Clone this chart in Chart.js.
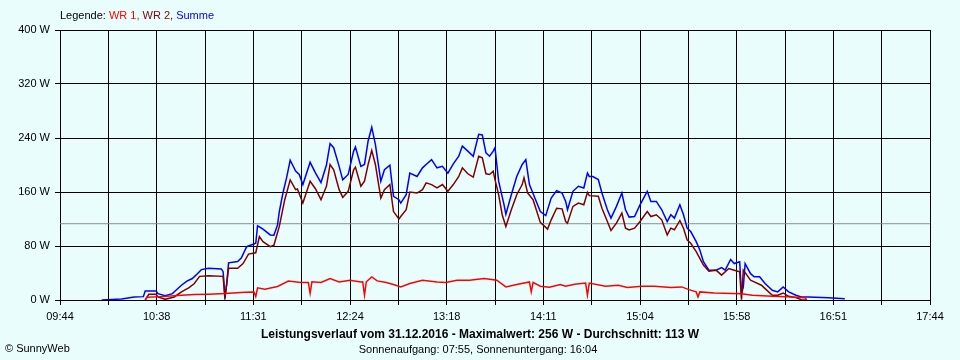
<!DOCTYPE html>
<html>
<head>
<meta charset="utf-8">
<script src="https://cdn.jsdelivr.net/npm/chart.js@4.4.0/dist/chart.umd.min.js"></script>
<style>
  html, body { margin: 0; padding: 0; background: #e9fdfd; }
  canvas { display: block; }
</style>
</head>
<body>
<canvas id="chart" width="960" height="360"></canvas>
<script>
const day = '31.12.2016';
const maxWatt = 256;
const avgWatt = 113;
const sunrise = '07:55';
const sunset = '16:04';

const seriesNames = ['WR 1', 'WR 2', 'Summe'];
const timeLabels = ['09:44', '10:38', '11:31', '12:24', '13:18', '14:11', '15:04', '15:58', '16:51', '17:44'];

// WR 1 (red)
const wr1 = [
  ['10:31', 0], ['10:32', 4], ['10:40', 5], ['10:49', 6.5], ['10:58', 8], ['11:06', 8.5], ['11:15', 9.5],
  ['11:26', 11.4], ['11:31', 12], ['11:32', 5], ['11:33', 18], ['11:37', 16], ['11:44', 20], ['11:50', 28],
  ['11:57', 26], ['12:01', 26], ['12:02', 10], ['12:03', 27], ['12:08', 26], ['12:13', 31.8], ['12:18', 26.8],
  ['12:24', 29.3], ['12:30', 26.8], ['12:31', 27], ['12:32', 7], ['12:33', 27], ['12:36', 34.3], ['12:39', 28.3],
  ['12:44', 25.8], ['12:48', 22.9], ['12:52', 19.4], ['12:57', 24.4], ['13:04', 29.3], ['13:12', 26.8],
  ['13:17', 25.8], ['13:23', 29.3], ['13:30', 29.3], ['13:38', 31.8], ['13:45', 29.3], ['13:50', 19.4],
  ['13:56', 22.9], ['14:03', 26.8], ['14:04', 12], ['14:05', 26], ['14:09', 20.4], ['14:14', 18.9],
  ['14:20', 22.9], ['14:23', 20.4], ['14:28', 23.4], ['14:34', 25], ['14:35', 7], ['14:36', 25],
  ['14:45', 20.4], ['14:52', 21.9], ['14:57', 18.4], ['15:05', 20.4], ['15:12', 20.4], ['15:21', 18.4],
  ['15:27', 19.4], ['15:31', 15.4], ['15:35', 12], ['15:36', 4.5], ['15:37', 12], ['15:45', 10.4],
  ['16:00', 9.4], ['16:06', 7], ['16:17', 5.5], ['16:28', 4.5], ['16:35', 3.5], ['16:36', 0]
];

// WR 2 (dark red)
const wr2 = [
  ['10:31', 0], ['10:33', 8.5], ['10:37', 8.5], ['10:38', 4.5], ['10:42', 1], ['10:47', 4.5], ['10:51', 12],
  ['10:55', 18], ['10:58', 24], ['11:01', 35], ['11:06', 36], ['11:14', 35], ['11:15', 2], ['11:17', 47],
  ['11:22', 47], ['11:25', 54], ['11:28', 68], ['11:32', 70], ['11:34', 94], ['11:36', 86.5], ['11:40', 79],
  ['11:42', 81], ['11:45', 109], ['11:48', 148.6], ['11:51', 178], ['11:54', 163.5], ['11:55', 164.5],
  ['11:58', 143.6], ['12:02', 176], ['12:05', 164.5], ['12:08', 148.6], ['12:11', 168.5], ['12:13', 200.8],
  ['12:15', 193], ['12:18', 163.5], ['12:20', 152], ['12:23', 161], ['12:26', 193], ['12:27', 196.8],
  ['12:30', 168.5], ['12:32', 176], ['12:34', 200.8], ['12:36', 221.6], ['12:38', 200.8], ['12:41', 151],
  ['12:43', 163.5], ['12:46', 171], ['12:48', 131], ['12:51', 120], ['12:52', 123.7], ['12:55', 133.7],
  ['12:57', 160], ['13:01', 158.5], ['13:04', 163.5], ['13:06', 173.5], ['13:09', 171], ['13:12', 166],
  ['13:15', 171], ['13:18', 161], ['13:21', 171], ['13:24', 183], ['13:26', 195.8], ['13:29', 187],
  ['13:32', 182], ['13:35', 213], ['13:37', 210.7], ['13:39', 187], ['13:41', 186], ['13:43', 190.8],
  ['13:44', 178.4], ['13:46', 156], ['13:48', 126], ['13:50', 108.8], ['13:53', 133.7], ['13:56', 156],
  ['13:59', 171], ['14:00', 181], ['14:02', 158.5], ['14:05', 148.6], ['14:09', 115], ['14:13', 105],
  ['14:15', 118.8], ['14:18', 136], ['14:21', 135], ['14:23', 116.3], ['14:24', 113.8], ['14:27', 138.7],
  ['14:30', 143.6], ['14:33', 141], ['14:35', 159.5], ['14:36', 154.6], ['14:41', 153.6], ['14:43', 136],
  ['14:46', 116.3], ['14:48', 103], ['14:51', 113.8], ['14:54', 128.7], ['14:56', 106.4], ['14:58', 103.9],
  ['15:01', 106.4], ['15:04', 116.3], ['15:08', 131.2], ['15:10', 123.7], ['15:13', 126.2], ['15:16', 118.8],
  ['15:19', 96.4], ['15:21', 106.4], ['15:23', 104], ['15:26', 117.8], ['15:28', 106.4], ['15:30', 89],
  ['15:32', 84], ['15:35', 71.6], ['15:37', 61.6], ['15:39', 51.7], ['15:42', 42.7], ['15:46', 44.2],
  ['15:49', 36.8], ['15:53', 46.7], ['15:56', 44.2], ['15:59', 41.7], ['16:00', 0.5], ['16:01', 44.2],
  ['16:05', 29.3], ['16:07', 26.8], ['16:11', 21.9], ['16:13', 16.9], ['16:17', 7], ['16:20', 7],
  ['16:23', 10.4], ['16:26', 5.5], ['16:30', 3.5], ['16:33', 0.5], ['16:36', 0]
];

// Summe (blue)
const summe = [
  ['10:07', 0], ['10:18', 1.5], ['10:25', 4.5], ['10:30', 5], ['10:31', 13.4], ['10:37', 13.4], ['10:38', 9.4],
  ['10:42', 6.5], ['10:46', 9.4], ['10:48', 14.4], ['10:51', 21.9], ['10:54', 28], ['10:57', 31.8],
  ['10:59', 36.8], ['11:02', 45], ['11:06', 47], ['11:13', 46], ['11:14', 42], ['11:15', 4.5], ['11:16', 24],
  ['11:17', 55], ['11:22', 57], ['11:24', 62], ['11:27', 79], ['11:32', 84], ['11:33', 110], ['11:36', 105],
  ['11:40', 96.4], ['11:42', 96], ['11:44', 111], ['11:45', 131], ['11:47', 158.5], ['11:49', 181],
  ['11:51', 207], ['11:54', 191], ['11:56', 186], ['11:58', 171], ['12:02', 204], ['12:05', 188],
  ['12:08', 174], ['12:11', 200], ['12:13', 231.6], ['12:15', 225.6], ['12:18', 198], ['12:20', 178],
  ['12:23', 186], ['12:26', 220.6], ['12:27', 226.6], ['12:30', 198], ['12:32', 200.8], ['12:34', 235.6],
  ['12:36', 256], ['12:38', 230.6], ['12:41', 176], ['12:43', 193], ['12:46', 199.8], ['12:48', 153.6],
  ['12:51', 148.6], ['12:52', 143.6], ['12:55', 156], ['12:57', 188], ['13:01', 183], ['13:04', 195.8],
  ['13:06', 200.8], ['13:09', 208], ['13:12', 195.8], ['13:15', 198], ['13:18', 188], ['13:21', 201.8],
  ['13:24', 213], ['13:26', 228], ['13:29', 220.6], ['13:32', 213], ['13:35', 245.5], ['13:37', 244.5],
  ['13:39', 218], ['13:41', 213], ['13:43', 220.6], ['13:44', 225.6], ['13:46', 176], ['13:49', 141],
  ['13:50', 127], ['13:53', 156], ['13:56', 183], ['13:59', 200.8], ['14:01', 208], ['14:03', 171],
  ['14:06', 151], ['14:09', 131], ['14:12', 125], ['14:15', 151], ['14:18', 162], ['14:21', 158.5],
  ['14:23', 146], ['14:24', 133.7], ['14:27', 161], ['14:30', 168.5], ['14:33', 166], ['14:35', 188],
  ['14:36', 183], ['14:38', 183], ['14:41', 178.4], ['14:43', 158.5], ['14:46', 133.7], ['14:48', 121.3],
  ['14:51', 138.7], ['14:54', 158.5], ['14:56', 133.7], ['14:58', 122.8], ['15:01', 123.7], ['15:04', 141],
  ['15:08', 161], ['15:10', 146], ['15:13', 146], ['15:16', 133.7], ['15:19', 116.3], ['15:21', 126.2],
  ['15:23', 121.3], ['15:26', 141], ['15:28', 126.2], ['15:30', 106.4], ['15:32', 101.4], ['15:35', 86.5],
  ['15:37', 74], ['15:39', 56.7], ['15:42', 44.2], ['15:46', 44.2], ['15:49', 48], ['15:51', 44.2],
  ['15:54', 60], ['15:56', 54], ['15:59', 56.7], ['16:00', 9.4], ['16:01', 19], ['16:02', 54], ['16:05', 39],
  ['16:07', 34.3], ['16:10', 34.3], ['16:13', 24.4], ['16:17', 14.4], ['16:20', 12], ['16:23', 19.4],
  ['16:26', 12], ['16:30', 7], ['16:33', 4.5], ['16:37', 4.5], ['16:48', 3.5], ['16:57', 2]
];

const toMin = s => {
  const [h, m] = s.split(':');
  return Number(h) * 60 + Number(m);
};
const toPoints = rows => rows.map(([t, w]) => ({ x: toMin(t), y: w }));

const xMin = toMin(timeLabels[0]);
const xMax = toMin(timeLabels[timeLabels.length - 1]);
const FONT = '"Liberation Sans", Arial, sans-serif';

const textPlugin = {
  id: 'texts',
  afterDraw(chart) {
    const ctx = chart.ctx;
    ctx.save();
    ctx.textBaseline = 'middle';
    ctx.font = `11px ${FONT}`;

    // legend line at the top
    const parts = [
      ['Legende: ', '#000000'],
      [seriesNames[0] + ', ', '#ff0000'],
      [seriesNames[1] + ', ', '#800000'],
      [seriesNames[2], '#0000ff'],
    ];
    let x = 60;
    parts.forEach(([txt, col]) => {
      ctx.fillStyle = col;
      ctx.textAlign = 'left';
      ctx.fillText(txt, x, 16);
      x += ctx.measureText(txt).width;
    });

    // bottom texts
    ctx.fillStyle = '#000000';
    ctx.textAlign = 'center';
    ctx.font = `bold 12px ${FONT}`;
    ctx.fillText(`Leistungsverlauf vom ${day} - Maximalwert: ${maxWatt} W - Durchschnitt: ${avgWatt} W`, 480, 335);
    ctx.font = `11px ${FONT}`;
    ctx.fillText(`Sonnenaufgang: ${sunrise}, Sonnenuntergang: ${sunset}`, 478, 350);
    ctx.textAlign = 'left';
    ctx.fillText('\u00A9 SunnyWeb', 5, 349);
    ctx.restore();
  }
};

new Chart(document.getElementById('chart'), {
  type: 'line',
  data: {
    datasets: [
      {
        label: seriesNames[0],
        data: toPoints(wr1),
        borderColor: '#ff0000',
        borderWidth: 1.5,
        order: 1,
      },
      {
        label: seriesNames[1],
        data: toPoints(wr2),
        borderColor: '#800000',
        borderWidth: 1.5,
        order: 2,
      },
      {
        label: seriesNames[2],
        data: toPoints(summe),
        borderColor: '#0000ff',
        borderWidth: 1.5,
        order: 3,
      },
      {
        label: 'Durchschnitt',
        data: [{ x: xMin, y: avgWatt }, { x: xMax, y: avgWatt }],
        borderColor: '#8c8c8c',
        borderWidth: 1,
        order: 4,
      },
    ],
  },
  options: {
    responsive: false,
    animation: false,
    devicePixelRatio: 1,
    elements: {
      point: { radius: 0 },
      line: { tension: 0, borderJoinStyle: 'miter' },
    },
    layout: { padding: { left: 0, right: 30, top: 30, bottom: 0 } },
    plugins: {
      legend: { display: false },
      tooltip: { enabled: false },
    },
    scales: {
      x: {
        type: 'linear',
        min: xMin,
        max: xMax,
        afterFit: scale => { scale.height = 60; },
        afterBuildTicks: scale => {
          const n = (timeLabels.length - 1) * 2;
          scale.ticks = Array.from({ length: n + 1 }, (_, i) => ({ value: xMin + i * (xMax - xMin) / n }));
        },
        ticks: {
          autoSkip: false,
          maxRotation: 0,
          padding: 5,
          color: '#000000',
          font: { family: FONT, size: 11 },
          callback: (v, i) => (i % 2 === 0 ? timeLabels[i / 2] : ''),
        },
        grid: { color: '#000000', lineWidth: 1, tickLength: 5, drawTicks: true },
        border: { color: '#000000' },
      },
      y: {
        min: 0,
        max: 400,
        afterFit: scale => { scale.width = 60; },
        ticks: {
          stepSize: 80,
          padding: 5,
          color: '#000000',
          font: { family: FONT, size: 11 },
          callback: v => v + ' W',
        },
        grid: { color: '#000000', lineWidth: 1, tickLength: 5, drawTicks: true },
        border: { color: '#000000' },
      },
    },
  },
  plugins: [textPlugin],
});
</script>
</body>
</html>
